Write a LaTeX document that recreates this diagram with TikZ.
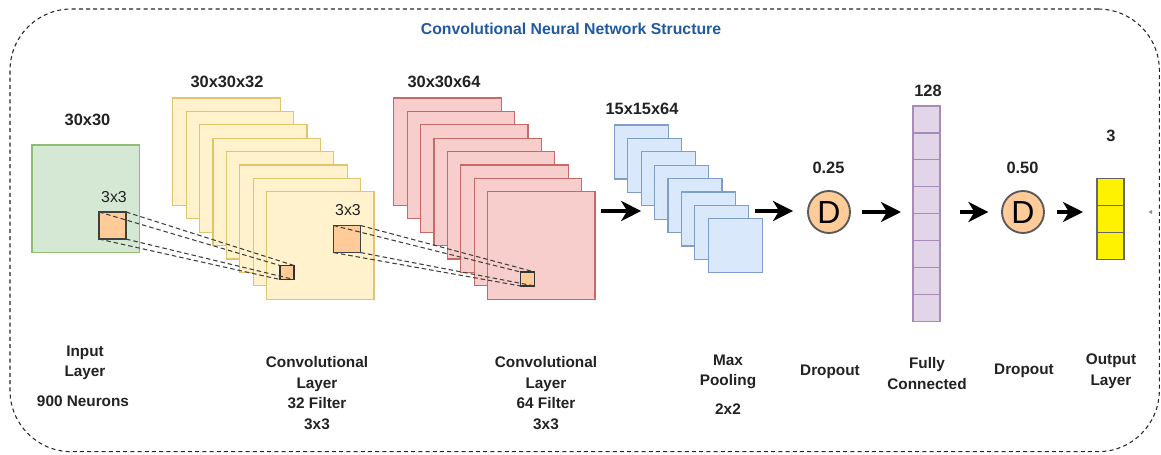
\documentclass[tikz,border=0pt]{standalone}
\usepackage{fontspec}
\setmainfont{Liberation Sans}
\usetikzlibrary{arrows.meta}
\definecolor{gfill}{HTML}{D5E8D4}\definecolor{gline}{HTML}{8FBC75}
\definecolor{yfill}{HTML}{FFF2CC}\definecolor{yline}{HTML}{E3C46E}
\definecolor{rfill}{HTML}{F8CECC}\definecolor{rline}{HTML}{C56A66}
\definecolor{bfill}{HTML}{DAE8FC}\definecolor{bline}{HTML}{7F9ECB}
\definecolor{pfill}{HTML}{E1D5E7}\definecolor{pline}{HTML}{A98BBA}
\definecolor{ofill}{HTML}{FFCC99}\definecolor{txt}{HTML}{222222}
\definecolor{titlec}{HTML}{1F5AA0}
\tikzset{
  sheet/.style={draw,rectangle,anchor=north west,inner sep=0pt,outer sep=0pt,line width=0.9pt},
  bigsheet/.style={sheet,minimum width=80.6pt,minimum height=80.6pt},
  smallsheet/.style={sheet,minimum width=40.5pt,minimum height=40.5pt},
  win/.style={sheet,fill=ofill,draw=black!75,minimum width=20.3pt,minimum height=20.3pt},
  tinywin/.style={sheet,fill=ofill,draw=black!80,minimum width=10.5pt,minimum height=10.5pt},
  cell/.style={sheet,minimum width=20.3pt,minimum height=20.2pt},
  lbl/.style={font=\bfseries\fontsize{11.5}{15.4}\selectfont,text=txt,align=center,inner sep=0pt},
  dimlbl/.style={lbl,font=\bfseries\fontsize{12.3}{15}\selectfont},
  plainlbl/.style={font=\fontsize{11.9}{14}\selectfont,text=txt,inner sep=0pt},
  drop/.style={circle,draw=black!65,fill=ofill,line width=1.4pt,minimum size=31.5pt,inner sep=0pt,font=\fontsize{24}{25}\selectfont},
  flow/.style={line width=2.8pt,-{Stealth[length=15pt,width=15pt,inset=4.5pt]},black},
  proj/.style={dashed,dash pattern=on 3.4pt off 2.2pt,line width=0.8pt,black!75},
  frame/.style={draw=black!85,dashed,dash pattern=on 3pt off 2.4pt,line width=0.8pt,rounded corners=46pt}
}
\begin{document}
\begin{tikzpicture}[x=0.75pt,y=-0.75pt]
\useasboundingbox (0,0) rectangle (1161,454);
\node[frame,rectangle,minimum width=862pt,minimum height=332pt,anchor=north west,inner sep=0pt,outer sep=0pt] (outer) at (10,9) {};
\node[font=\bfseries\fontsize{11.85}{13}\selectfont,text=titlec,inner sep=0pt] (title) at (571,29) {Convolutional Neural Network Structure};

% input
\node[bigsheet,fill=gfill,draw=gline] (input) at (32,145) {};
\node[dimlbl] (inputdim) at (87.5,120) {30x30};
\node[plainlbl] (k1) at (114,197) {3x3};
\node[win] (w1) at (99,212) {};

% conv 32
\foreach \i in {0,...,7}
  \node[bigsheet,fill=yfill,draw=yline] (y\i) at ({172.7+13.4*\i},{98+13.4*\i}) {};
\node[dimlbl] (ydim) at (227,82) {30x30x32};
\node[plainlbl] (k2) at (348,210) {3x3};
\node[win] (w2) at (333.5,225.5) {};
\node[tinywin] (t1) at (280,265.5) {};

% conv 64
\foreach \i in {0,...,7}
  \node[bigsheet,fill=rfill,draw=rline] (r\i) at ({393.7+13.4*\i},{98+13.4*\i}) {};
\node[dimlbl] (rdim) at (444,82) {30x30x64};
\node[tinywin] (t2) at (520.7,272) {};

% connectors between filter windows
\draw[proj] (w1.north west) -- (t1.north west);
\draw[proj] (w1.north east) -- (t1.north east);
\draw[proj] (w1.south west) -- (t1.south west);
\draw[proj] (w1.south east) -- (t1.south east);
\draw[proj] (w2.north west) -- (t2.north west);
\draw[proj] (w2.north east) -- (t2.north east);
\draw[proj] (w2.south west) -- (t2.south west);
\draw[proj] (w2.south east) -- (t2.south east);

% pooling
\foreach \i in {0,...,7}
  \node[smallsheet,fill=bfill,draw=bline] (b\i) at ({614.3+13.4*\i},{125+13.4*\i}) {};
\node[dimlbl] (bdim) at (642,109) {15x15x64};

% dropout 1
\node[drop] (d1) at (829,212) {D};
\node[dimlbl] (d1v) at (828.5,168) {0.25};

% dense
\foreach \i in {0,...,7}
  \node[cell,fill=pfill,draw=pline] (p\i) at (913,{106+26.9*\i}) {};
\node[dimlbl] (pdim) at (928,90.5) {128};

% dropout 2
\node[drop] (d2) at (1023,212) {D};
\node[dimlbl] (d2v) at (1022.5,168) {0.50};

% output
\foreach \i in {0,...,2}
  \node[cell,fill=yellow,draw=black!60] (o\i) at (1097,{178.5+26.9*\i}) {};
\node[dimlbl] (odim) at (1111,136) {3};

% arrows
\coordinate (top) at (0,211);
\draw[flow,shorten <=4.5pt,shorten >=10pt] (r7.east |- top) -- (b3.west |- top);
\draw[flow,shorten <=5pt,shorten >=10.5pt] (b6.east |- top) -- (d1.west |- top);
\draw[flow,shorten <=8pt,shorten >=9pt] (d1.east) -- (p0.west |- d1.east);
\draw[flow,shorten <=15pt,shorten >=9.5pt] (p0.east |- d2.west) -- (d2.west);
\draw[flow,shorten <=9pt,shorten >=10.5pt] (d2.east) -- (o1.west |- d2.east);

% small mark on the right
\fill[black!45] (1148.5,212) -- (1152,210) -- (1152,214) -- cycle;

% captions
\node[lbl] (c1) at (85,363) {Input\\Layer};
\node[lbl] (c1b) at (83,401) {900 Neurons};
\node[lbl] (c2) at (317,393) {Convolutional\\Layer\\32 Filter\\3x3};
\node[lbl] (c3) at (546,393) {Convolutional\\Layer\\64 Filter\\3x3};
\node[lbl] (c4) at (728,372) {Max\\Pooling};
\node[lbl] (c4b) at (728,409) {2x2};
\node[lbl] (c5) at (830,372) {Dropout};
\node[lbl] (c6) at (927,373.5) {Fully\\Connected};
\node[lbl] (c7) at (1024,371) {Dropout};
\node[lbl] (c8) at (1111,371) {Output\\Layer};
\end{tikzpicture}
\end{document}
